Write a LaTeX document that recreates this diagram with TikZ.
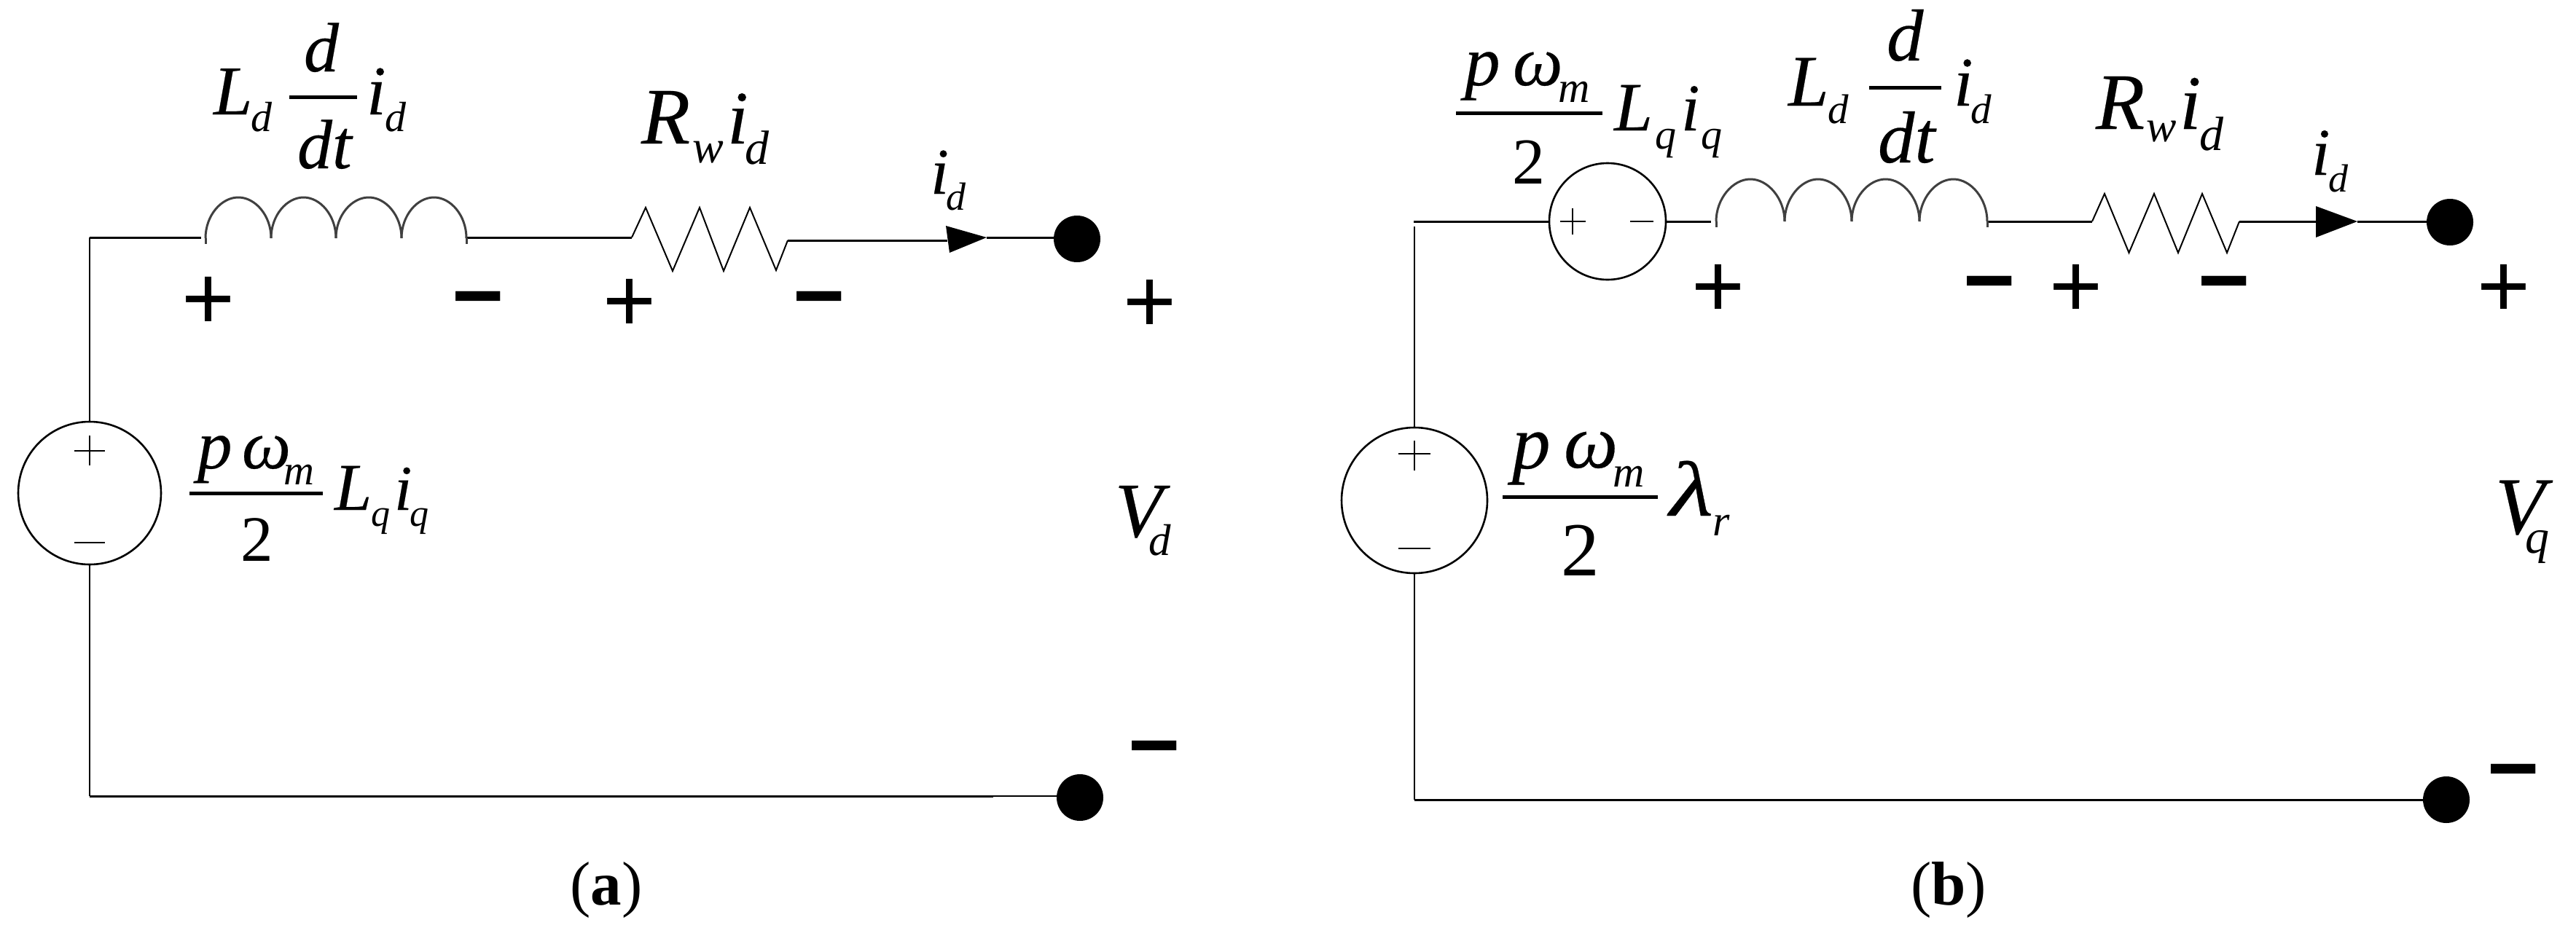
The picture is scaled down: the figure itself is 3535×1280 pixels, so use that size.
\documentclass[tikz,border=0pt]{standalone}
\usepackage{graphicx}
\usepackage{fontspec}
\setmainfont{Liberation Serif}
\newfontfamily\polfont{Liberation Sans}
\newfontfamily\bigit{Liberation Serif}[ItalicFeatures={FakeBold=0.25}]
\newcommand{\subt}[3]{\raisebox{-#2pt}{\fontsize{#1}{#1}\selectfont\normalfont\itshape #3}}
\tikzset{
  mi/.style={anchor=base west,inner sep=0pt,outer sep=0pt,font=\fontsize{#1}{#1}\selectfont\itshape},
  mb/.style={anchor=base west,inner sep=0pt,outer sep=0pt,font=\fontsize{#1}{#1}\selectfont\bigit\itshape},
  rm/.style={anchor=base west,inner sep=0pt,outer sep=0pt,font=\fontsize{#1}{#1}\selectfont},
  capt/.style={anchor=base,inner sep=0pt,outer sep=0pt,font=\fontsize{85}{85}\selectfont},
  plusm/.style={anchor=base,inner sep=0pt,outer sep=0pt,font=\fontsize{125}{125}\selectfont\polfont},
  minusm/.style={anchor=base,inner sep=0pt,outer sep=0pt,font=\fontsize{122}{122}\selectfont\polfont\bfseries},
  wire/.style={line width=3pt,black},
  vwire/.style={line width=2.2pt,black},
  thin wire/.style={line width=2pt,black},
  coil/.style={line width=3pt,black!75},
  fracbar/.style={line width=5pt,black},
  src/.style={circle,draw=black,line width=2.6pt,inner sep=0pt,outer sep=0pt,fill=white,minimum size=#1},
  term/.style={circle,fill=black,inner sep=0pt,outer sep=0pt,minimum size=64pt},
  pol/.style={line width=2.4pt,black},
}
\begin{document}
\begin{tikzpicture}[x=1pt,y=-1pt]
\useasboundingbox (0,0) rectangle (3535,1280);
\fill[white] (0,0) rectangle (3535,1280);

% ---------- panel (a) ----------
\node[src=196pt] (aS) at (123,677) {};
\node[term] (aT1) at (1478,328) {};
\node[term] (aT2) at (1482,1095) {};
\coordinate (aTL) at (123,326);
\coordinate (aBL) at (123,1093);
\coordinate (aLi) at (276,326);
\coordinate (aLo) at (641,326);
\coordinate (aRi) at (867,326);
\coordinate (aRo) at (1081,330);
\coordinate (aAr) at (1300,330);
\coordinate (aTip) at (1354,326);
\coordinate (aBJ) at (1363,1093);
\draw[vwire] (aS.north) -- (aTL);
\draw[wire] (aTL) -- (aLi);
\draw[wire] (aLo) -- (aRi);
\draw[wire] (aRo) -- (aAr);
\draw[wire] (aTip) -- (aTip -| aT1.west);
\draw[vwire] (aS.south) -- (aBL);
\draw[wire] (aBL) -- (aBJ);
\draw[thin wire] (aBJ) -- (aBJ -| aT2.west);
\foreach \p/\q in {282/372,372/461,461/551,551/640}
  \draw[coil] (\p,327) .. controls (\p,296) and ({\p+(\q-\p)*0.24},271) .. ({(\p+\q)/2},271)
              .. controls ({\q-(\q-\p)*0.24},271) and (\q,296) .. (\q,327);
\draw[coil] (282,327) -- (282,335) (640,327) -- (640,335);
\draw[thin wire] (aRi) -- (886,285) -- (923,372) -- (960,285) -- (993,372) -- (1029,285) -- (1065,371) -- (aRo);
\fill (1298,310) -- (aTip) -- (1303,347) -- cycle;
\draw[pol] (102,619) -- (144,619) (123,598) -- (123,639) (102,745) -- (144,745);

\node[mb=96] (aL) at (293,157) {L};
\node[mi=58] (aLd) at (344,180) {d};
\node[mb=96] (aNd) at (417,98) {d};
\draw[fracbar] (397,133) -- (490,133);
\node[mb=96] (aDt) at (408,231) {dt};
\node[mb=96] (aI) at (503,157) {i};
\node[mi=58] (aId) at (528,180) {d};
\node[mb=110] (aR) at (880,197) {R};
\node[mi=64] (aRw) at (950,223) {w};
\node[mb=104] (aI2) at (998,197) {i};
\node[mi=66] (aId2) at (1022,225) {d};
\node[mb=90] (aI3) at (1277,266) {i};
\node[mi=54] (aId3) at (1298,288) {d};
\node[mb=95] (aP) at (271,643) {p};
\node[mb=95] (aW) at (332,643) {\makebox[57pt][l]{ω}\subt{58}{22}{m}};
\draw[fracbar] (260,677) -- (443,677);
\node[rm=89] (a2) at (330,770) {2};
\node[mb=92] (aL2) at (459,700) {L};
\node[mi=52] (aLq) at (509,722) {q};
\node[mb=88] (aI4) at (541,700) {i};
\node[mi=52] (aIq) at (562,722) {q};
\node[mb=107] (aV) at (1530,737) {\makebox[46pt][l]{V}\subt{61}{25}{d}};

\node[plusm] (aP1) at (286,452) {+};
\node[minusm] (aM1) at (656,447) {−};
\node[plusm] (aP2) at (864,455) {+};
\node[minusm] (aM2) at (1124,447) {−};
\node[plusm] (aP3) at (1578,456) {+};
\node[minusm] (aM3) at (1584,1064) {−};
\node[capt] (aC) at (832,1242) {(\textbf{a})};

% ---------- panel (b) ----------
\node[src=200pt] (bS) at (1941,687) {};
\node[src=160pt] (bE) at (2206,304) {};
\node[term] (bT1) at (3362,305) {};
\node[term] (bT2) at (3357,1098) {};
\coordinate (bTL) at (1940,304);
\coordinate (bVT) at (1941,311);
\coordinate (bBL) at (1941,1098);
\coordinate (bLi) at (2348,304);
\coordinate (bLo) at (2728,304);
\coordinate (bRi) at (2871,304);
\coordinate (bRo) at (3073,304);
\coordinate (bAr) at (3178,304);
\coordinate (bTip) at (3235,304);
\draw[wire] (bTL) -- (bE.west);
\draw[wire] (bE.east) -- (bLi);
\draw[wire] (bLo) -- (bRi);
\draw[wire] (bRo) -- (bAr);
\draw[wire] (bTip) -- (bTip -| bT1.west);
\draw[vwire] (bVT) -- (bS.north);
\draw[vwire] (bS.south) -- (bBL);
\draw[wire] (bBL) -- (bT2.west);
\foreach \p/\q in {2355/2449,2449/2541,2541/2634,2634/2727}
  \draw[coil] (\p,304) .. controls (\p,273) and ({\p+(\q-\p)*0.24},246) .. ({(\p+\q)/2},246)
              .. controls ({\q-(\q-\p)*0.24},246) and (\q,273) .. (\q,304);
\draw[coil] (2355,304) -- (2355,312) (2727,304) -- (2727,312);
\draw[thin wire] (bRi) -- (2888,266) -- (2921.5,347) -- (2956,266) -- (2989,347) -- (3022,266) -- (3056,347) -- (bRo);
\fill (3178,283) -- (bTip) -- (3178,326) -- cycle;
\draw[pol] (1919,623) -- (1963,623) (1941,605) -- (1941,646) (1919,753) -- (1963,753);
\draw[pol] (2141,304) -- (2176,304) (2158,286) -- (2158,322) (2237,304) -- (2269,304);

\node[mb=97] (bP) at (2010,117) {p};
\node[mb=97] (bW) at (2076,117) {\makebox[62pt][l]{ω}\subt{60}{23}{m}};
\draw[fracbar] (1998,155) -- (2199,155);
\node[rm=90] (b2) at (2075,252) {2};
\node[mb=95] (bL) at (2215,179) {L};
\node[mi=58] (bLq) at (2271,204) {q};
\node[mb=92] (bI) at (2307,179) {i};
\node[mi=58] (bIq) at (2334,204) {q};
\node[mb=100] (bL2) at (2454,145) {L};
\node[mi=57] (bLd) at (2508,169) {d};
\node[mb=101] (bNd) at (2589,83) {d};
\draw[fracbar] (2565,120) -- (2664,120);
\node[mb=101] (bDt) at (2577,223) {dt};
\node[mb=96] (bI2) at (2681,145) {i};
\node[mi=57] (bId) at (2704,169) {d};
\node[mb=110] (bR) at (2876,177) {R};
\node[mi=62] (bRw) at (2945,194) {w};
\node[mb=106] (bI3) at (2991,177) {i};
\node[mi=66] (bId2) at (3018,206) {d};
\node[mb=92] (bI4) at (3172,240) {i};
\node[mi=54] (bId3) at (3195,263) {d};
\node[mb=105] (bP2) at (2075,643) {p};
\node[mb=105] (bW2) at (2146,642) {\makebox[67pt][l]{ω}\subt{60}{26}{m}};
\draw[fracbar] (2062,682) -- (2275,682);
\node[rm=105] (b22) at (2142,790) {2};
\node[mb=107] (bLam) at (2291,708) {\scalebox{1.3}[1]{λ}};
\node[mi=60] (bLr) at (2350,735) {r};
\node[mb=112] (bV) at (3424,733) {\makebox[41pt][l]{V}\subt{66}{26}{q}};

\node[plusm] (bP1) at (2358,435) {+};
\node[minusm] (bM1) at (2730,426) {−};
\node[plusm] (bP3) at (2849,435) {+};
\node[minusm] (bM3) at (3052,426) {−};
\node[plusm] (bP4) at (3436,435) {+};
\node[minusm] (bM4) at (3449,1096) {−};
\node[capt] (bC) at (2674,1242) {(\textbf{b})};
\end{tikzpicture}
\end{document}
